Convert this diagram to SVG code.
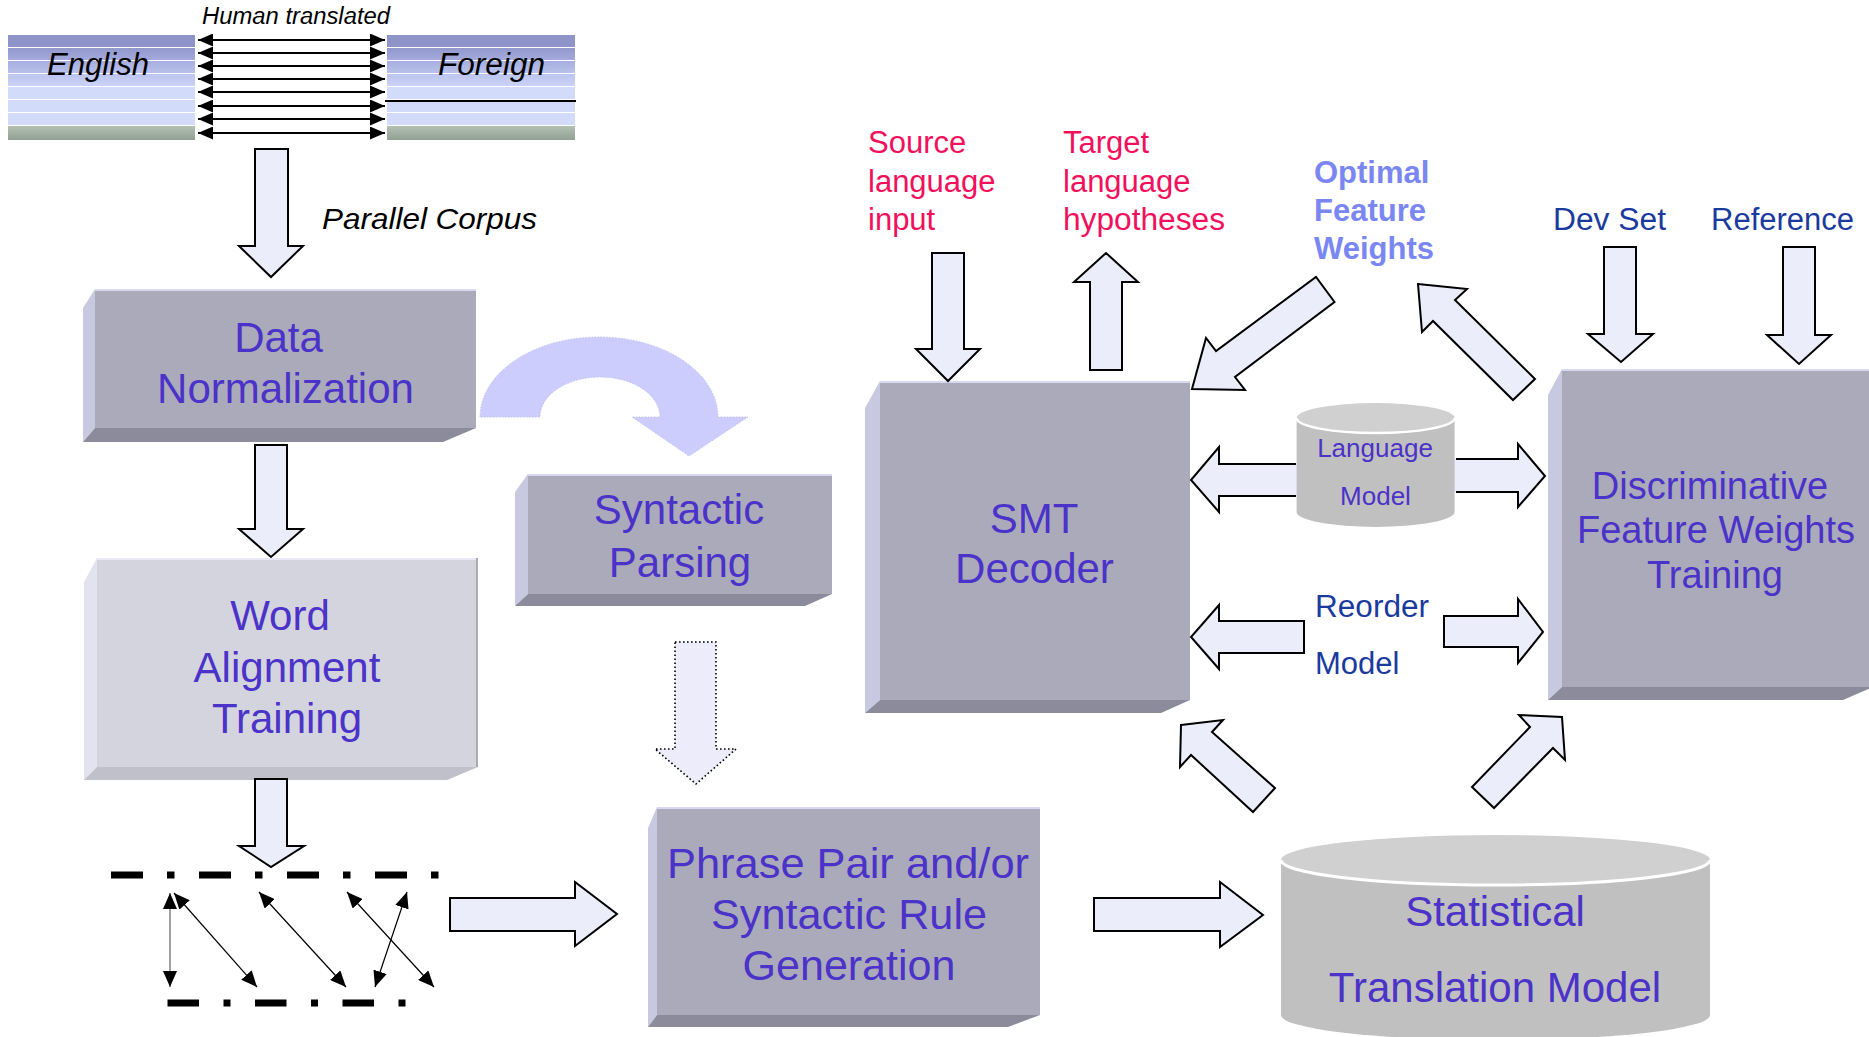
<svg xmlns="http://www.w3.org/2000/svg" width="1869" height="1037" viewBox="0 0 1869 1037">
<defs>
<style>
.lbl{font-family:"Liberation Sans",Arial,sans-serif;fill:#4b32c8;text-anchor:middle}
.it{font-family:"Liberation Sans",Arial,sans-serif;font-style:italic;fill:#000}
.pink{font-family:"Liberation Sans",Arial,sans-serif;font-size:31px;fill:#f2105c}
.blue{font-family:"Liberation Sans",Arial,sans-serif;font-size:31px;fill:#1b3a9e}
.opt{font-family:"Liberation Sans",Arial,sans-serif;font-size:31px;font-weight:bold;fill:#7a86f2}
.blk{fill:#ecedfb;stroke:#000;stroke-width:2;stroke-linejoin:miter}
.main{fill:#aaaabb}
.lf{fill:#c8c8e0}
.bf{fill:#8b8b9b}
.hl{stroke:#d8d8f0;stroke-width:2}
.ln{stroke:#000;stroke-width:2}
.thin{stroke:#000;stroke-width:1.2;fill:none}
</style>
<marker id="ah" viewBox="0 0 15 13" refX="15" refY="6.5" markerWidth="15" markerHeight="13" markerUnits="userSpaceOnUse" orient="auto-start-reverse">
<path d="M0,0 L15,6.5 L0,13 Z" fill="#000"/>
</marker>
<marker id="ah2" viewBox="0 0 16 14" refX="16" refY="7" markerWidth="16" markerHeight="14" markerUnits="userSpaceOnUse" orient="auto-start-reverse">
<path d="M0,0 L16,7 L0,14 Z" fill="#000"/>
</marker>
<linearGradient id="s1" x1="0" y1="0" x2="0" y2="1"><stop offset="0" stop-color="#9298cc"/><stop offset="1" stop-color="#a4aadb"/></linearGradient>
<linearGradient id="s2" x1="0" y1="0" x2="0" y2="1"><stop offset="0" stop-color="#a7aedf"/><stop offset="1" stop-color="#b8c0eb"/></linearGradient>
<linearGradient id="s3" x1="0" y1="0" x2="0" y2="1"><stop offset="0" stop-color="#bcc5f0"/><stop offset="1" stop-color="#cad2f6"/></linearGradient>
<linearGradient id="s7" x1="0" y1="0" x2="0" y2="1"><stop offset="0" stop-color="#b4c0b4"/><stop offset="1" stop-color="#90a092"/></linearGradient>
</defs>
<rect width="1869" height="1037" fill="#fff"/>

<g id="corpus">
<g id="english-bands">
<rect x="8" y="35" width="187" height="12" fill="#8e93c8"/>
<rect x="8" y="48" width="187" height="12" fill="url(#s1)"/>
<rect x="8" y="61" width="187" height="12" fill="url(#s2)"/>
<rect x="8" y="74" width="187" height="12" fill="url(#s3)"/>
<rect x="8" y="87" width="187" height="12" fill="#d3dbfa"/>
<rect x="8" y="100" width="187" height="12" fill="#d3dbfa"/>
<rect x="8" y="113" width="187" height="12" fill="#d3dbfa"/>
<rect x="8" y="126" width="187" height="14" fill="url(#s7)"/>
</g>
<g id="foreign-bands">
<rect x="387" y="35" width="188" height="12" fill="#8e93c8"/>
<rect x="387" y="48" width="188" height="12" fill="url(#s1)"/>
<rect x="387" y="61" width="188" height="12" fill="url(#s2)"/>
<rect x="387" y="74" width="188" height="12" fill="url(#s3)"/>
<rect x="387" y="87" width="188" height="12" fill="#d3dbfa"/>
<rect x="387" y="100" width="188" height="12" fill="#d3dbfa"/>
<rect x="387" y="113" width="188" height="12" fill="#d3dbfa"/>
<rect x="387" y="126" width="188" height="14" fill="url(#s7)"/>
<line x1="385" y1="101" x2="576" y2="101" class="ln"/>
</g>
<g id="sentence-links">
<line x1="198" y1="40" x2="385" y2="40" class="ln" marker-start="url(#ah)" marker-end="url(#ah)"/>
<line x1="198" y1="53" x2="385" y2="53" class="ln" marker-start="url(#ah)" marker-end="url(#ah)"/>
<line x1="198" y1="66" x2="385" y2="66" class="ln" marker-start="url(#ah)" marker-end="url(#ah)"/>
<line x1="198" y1="79" x2="385" y2="79" class="ln" marker-start="url(#ah)" marker-end="url(#ah)"/>
<line x1="198" y1="92" x2="385" y2="92" class="ln" marker-start="url(#ah)" marker-end="url(#ah)"/>
<line x1="198" y1="106" x2="385" y2="106" class="ln" marker-start="url(#ah)" marker-end="url(#ah)"/>
<line x1="198" y1="119" x2="385" y2="119" class="ln" marker-start="url(#ah)" marker-end="url(#ah)"/>
<line x1="198" y1="133" x2="385" y2="133" class="ln" marker-start="url(#ah)" marker-end="url(#ah)"/>
</g>
<text class="it" x="296" y="24" font-size="23" text-anchor="middle" textLength="188" lengthAdjust="spacingAndGlyphs">Human translated</text>
<text class="it" x="47" y="75" font-size="31" textLength="102" lengthAdjust="spacingAndGlyphs">English</text>
<text class="it" x="438" y="75" font-size="31" textLength="107" lengthAdjust="spacingAndGlyphs">Foreign</text>
</g>

<g id="parallel-corpus-label">
<text class="it" x="322" y="229" font-size="30" textLength="215" lengthAdjust="spacingAndGlyphs">Parallel Corpus</text>
</g>

<g id="data-normalization">
<polygon class="lf" points="83,308 95,289 95,428 83,442"/>
<polygon class="bf" points="83,442 95,428 476,428 443,442"/>
<rect class="main" x="95" y="289" width="381" height="139"/>
<line class="hl" x1="95" y1="290" x2="476" y2="290"/>
<text class="lbl" x="278.5" y="352" font-size="42">Data</text>
<text class="lbl" x="285.5" y="403" font-size="42">Normalization</text>
</g>

<g id="word-alignment-training">
<polygon points="84,582 97,558 97,767 84,780" fill="#e3e3ef"/>
<polygon points="84,780 97,767 478,767 447,780" fill="#c0c0cb"/>
<rect x="97" y="558" width="381" height="209" fill="#d4d4de"/>
<line x1="97" y1="559" x2="478" y2="559" stroke="#e8e8f8" stroke-width="2"/>
<line x1="477" y1="558" x2="477" y2="767" stroke="#a9a9b9" stroke-width="2"/>
<text class="lbl" x="280" y="630" font-size="42">Word</text>
<text class="lbl" x="287" y="682" font-size="42">Alignment</text>
<text class="lbl" x="287" y="733" font-size="42">Training</text>
</g>

<g id="word-alignment-figure">
<line x1="111" y1="875" x2="440" y2="875" stroke="#000" stroke-width="7" stroke-dasharray="32 24 7.5 24.5"/>
<line x1="167.5" y1="1003" x2="408" y2="1003" stroke="#000" stroke-width="7" stroke-dasharray="31.5 24.5 7 24.5"/>
<line x1="170" y1="893" x2="170" y2="987" stroke="#808080" stroke-width="1.5" marker-start="url(#ah2)" marker-end="url(#ah2)"/>
<line class="thin" x1="174" y1="893" x2="257" y2="987" marker-start="url(#ah2)" marker-end="url(#ah2)"/>
<line class="thin" x1="259" y1="892" x2="346" y2="987" marker-start="url(#ah2)" marker-end="url(#ah2)"/>
<line class="thin" x1="347" y1="892" x2="434" y2="987" marker-start="url(#ah2)" marker-end="url(#ah2)"/>
<line class="thin" x1="407" y1="892" x2="375" y2="987" marker-start="url(#ah2)" marker-end="url(#ah2)"/>
</g>

<g id="syntactic-parsing">
<polygon class="lf" points="515,492 528,474 528,594 515,606"/>
<polygon class="bf" points="515,606 528,594 832,594 805,606"/>
<rect class="main" x="528" y="474" width="304" height="120"/>
<line class="hl" x1="528" y1="475" x2="832" y2="475"/>
<text class="lbl" x="679" y="524" font-size="42">Syntactic</text>
<text class="lbl" x="680" y="577" font-size="42">Parsing</text>
</g>

<g id="phrase-rule-generation">
<polygon class="lf" points="648,828 657,807 657,1015 648,1027"/>
<polygon class="bf" points="648,1027 657,1015 1040,1015 1008,1027"/>
<rect class="main" x="657" y="807" width="383" height="208"/>
<line class="hl" x1="657" y1="808" x2="1040" y2="808"/>
<text class="lbl" x="848" y="878" font-size="43" textLength="362" lengthAdjust="spacingAndGlyphs">Phrase Pair and/or</text>
<text class="lbl" x="849" y="929" font-size="43" textLength="276" lengthAdjust="spacingAndGlyphs">Syntactic Rule</text>
<text class="lbl" x="849" y="980" font-size="43">Generation</text>
</g>

<g id="smt-decoder">
<polygon class="lf" points="865,408 880,381 880,700 865,713"/>
<polygon class="bf" points="865,713 880,700 1190,700 1161,713"/>
<rect class="main" x="880" y="381" width="310" height="319"/>
<line class="hl" x1="880" y1="382" x2="1190" y2="382"/>
<text class="lbl" x="1034" y="533" font-size="42">SMT</text>
<text class="lbl" x="1034.5" y="583" font-size="42">Decoder</text>
</g>

<g id="dfw-training">
<polygon class="lf" points="1548,395 1562,369 1562,687 1548,700"/>
<polygon class="bf" points="1548,700 1562,687 1873,687 1843,700"/>
<rect class="main" x="1562" y="369" width="310" height="318"/>
<line class="hl" x1="1562" y1="370" x2="1869" y2="370"/>
<text class="lbl" x="1710" y="499" font-size="38">Discriminative</text>
<text class="lbl" x="1716" y="543" font-size="38">Feature Weights</text>
<text class="lbl" x="1715" y="588" font-size="38">Training</text>
</g>

<g id="connectors">
<path d="M480,417 A119,80 0 0 1 718,417 L748,417 L689,456 L632,417 L660,417 A60,40 0 0 0 540,417 Z" fill="#cccdfc" stroke="#c0c1f2" stroke-width="1" stroke-dasharray="1.5 1.5"/>
<polygon class="blk" points="255,149 288,149 288,246 303,246 271,277 239,246 255,246"/>
<polygon class="blk" points="255,445 287,445 287,529 303,529 271,557 239,529 255,529"/>
<polygon class="blk" points="255,779 287,779 287,846 304,846 271,867 239,846 255,846"/>
<polygon class="blk" points="450,898 575,898 575,882 617,914 575,946 575,931 450,931"/>
<polygon points="675,642 716,642 716,749 736,749 696,784 655,749 675,749" fill="#ececfa" stroke="#000" stroke-width="1.6" stroke-dasharray="1.6 2.4"/>
<polygon class="blk" points="1094,898 1220,898 1220,882 1263,915 1220,947 1220,931 1094,931"/>
<polygon class="blk" points="932,253 964,253 964,349 980,349 948,381 916,349 932,349"/>
<polygon class="blk" points="1090,370 1122,370 1122,282 1138,282 1106,253 1074,282 1090,282"/>
<polygon class="blk" points="1604,247 1636,247 1636,334 1653,334 1621,362 1588,334 1604,334"/>
<polygon class="blk" points="1783,247 1815,247 1815,335 1831,335 1799,364 1767,335 1783,335"/>
<polygon class="blk" points="1192,389 1206,338 1216,351 1316,277 1334.5,302 1235,377 1245,390"/>
<polygon class="blk" points="1418,284 1467,289 1455,300 1535,379 1513,400 1433,321 1422,332"/>
<polygon class="blk" points="1181,725 1223,720 1212,732 1275,788 1253,812 1191,755 1180,767"/>
<polygon class="blk" points="1562,717 1565,760 1553,748 1494,808 1472,787 1530,727 1519,715"/>
<polygon points="1300,464 1219,464 1219,447 1191,480 1219,512 1219,496 1300,496" fill="#ecedfb"/>
<polyline points="1296,464 1219,464 1219,447 1191,480 1219,512 1219,496 1296,496" fill="none" stroke="#000" stroke-width="2"/>
<polygon points="1452,459 1518,459 1518,444 1545,476 1518,507 1518,492 1452,492" fill="#ecedfb"/>
<polyline points="1456,459 1518,459 1518,444 1545,476 1518,507 1518,492 1456,492" fill="none" stroke="#000" stroke-width="2"/>
<polygon class="blk" points="1304,621 1219,621 1219,605 1191,637 1219,669 1219,653 1304,653"/>
<polygon class="blk" points="1444,616 1518,616 1518,599 1543,632 1518,663 1518,647 1444,647"/>
</g>

<g id="language-model">
<path d="M1296.6,418 L1296.6,512 A79,15 0 0 0 1454.6,512 L1454.6,418 Z" fill="#c0c0c0"/>
<ellipse cx="1375.6" cy="418" rx="79" ry="15" fill="#d0d0d0"/>
<path d="M1296.6,418 A79,15 0 0 0 1454.6,418" fill="none" stroke="#fff" stroke-width="2.5"/>
<text class="lbl" x="1375" y="457" font-size="26">Language</text>
<text class="lbl" x="1375.5" y="505" font-size="26">Model</text>
</g>

<g id="reorder-model">
<text class="blue" x="1315" y="617" textLength="114" lengthAdjust="spacingAndGlyphs">Reorder</text>
<text class="blue" x="1315" y="674">Model</text>
</g>

<g id="statistical-translation-model">
<path d="M1281,860 L1281,1015 A214.5,25 0 0 0 1710,1015 L1710,860 Z" fill="#c0c0c0"/>
<ellipse cx="1495.5" cy="860" rx="214.5" ry="25" fill="#d0d0d0"/>
<path d="M1281,860 A214.5,25 0 0 0 1710,860" fill="none" stroke="#fff" stroke-width="3"/>
<text class="lbl" x="1495" y="926" font-size="42">Statistical</text>
<text class="lbl" x="1495" y="1002" font-size="42">Translation Model</text>
</g>

<g id="source-input">
<text class="pink" x="868" y="153">Source</text>
<text class="pink" x="868" y="192">language</text>
<text class="pink" x="868" y="230">input</text>
</g>
<g id="target-hypotheses">
<text class="pink" x="1063" y="153">Target</text>
<text class="pink" x="1063" y="192">language</text>
<text class="pink" x="1063" y="230" textLength="162" lengthAdjust="spacingAndGlyphs">hypotheses</text>
</g>
<g id="optimal-weights">
<text class="opt" x="1314" y="183">Optimal</text>
<text class="opt" x="1314" y="221">Feature</text>
<text class="opt" x="1314" y="259">Weights</text>
</g>
<g id="dev-set">
<text class="blue" x="1553" y="230" textLength="113" lengthAdjust="spacingAndGlyphs">Dev Set</text>
</g>
<g id="reference">
<text class="blue" x="1711" y="230">Reference</text>
</g>
</svg>
